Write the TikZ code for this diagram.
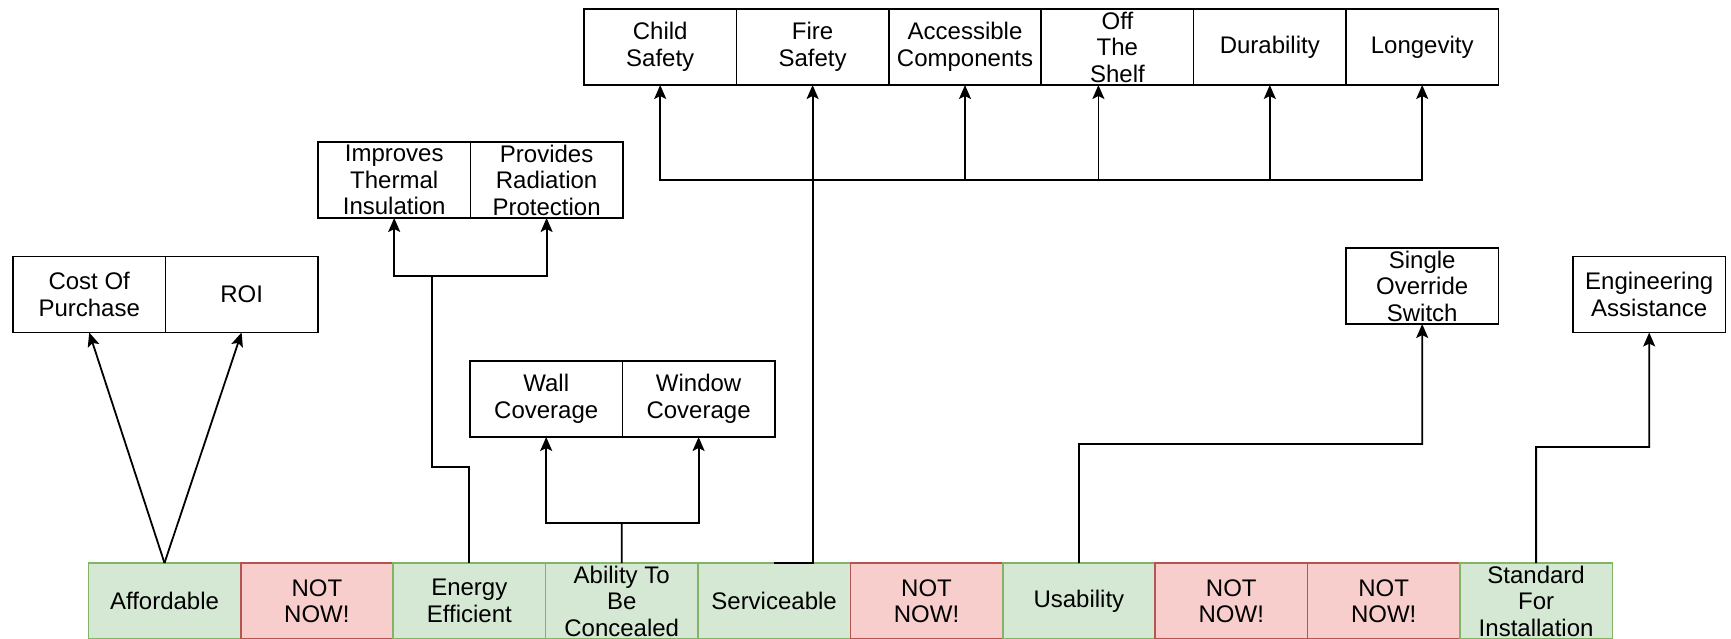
\documentclass[tikz,border=0pt]{standalone}
\usepackage{fontspec}
\setmainfont{Liberation Sans}
\usepackage{xcolor}
\usetikzlibrary{arrows.meta, positioning}

\definecolor{goalfill}{HTML}{D5E8D4}
\definecolor{goalline}{HTML}{82B366}
\definecolor{laterfill}{HTML}{F8CECC}
\definecolor{laterline}{HTML}{B85450}
\newcommand{\needfont}{\fontsize{12}{13.25}\selectfont}

\begin{document}
\begin{tikzpicture}[x=0.5pt, y=-0.5pt,
		need/.style={draw, line width=0.8pt, minimum width=76.2pt, minimum height=38pt, inner xsep=1pt, inner ysep=0pt, outer sep=0pt, align=center, font=\needfont},
		goal/.style={need, fill=goalfill, draw=goalline},
		later/.style={need, fill=laterfill, draw=laterline},
		link/.style={line width=0.9pt, -{Stealth[length=7pt, width=6pt, inset=1.5pt]}},
		wire/.style={line width=0.9pt}
		]
		\useasboundingbox (0,0) rectangle (1731,638);
		% bottom row
		\node [goal](afford) at (164.5,601) {Affordable};
		\node [later](notnow1) [right=0pt of afford] {NOT\\NOW!};
		\node [goal](energy) [right=0pt of notnow1] {Energy\\Efficient};
		\node [goal](conceal) [right=0pt of energy] {Ability To\\Be\\Concealed};
		\node [goal](serv) [right=0pt of conceal] {Serviceable};
		\node [later](notnow2) [right=0pt of serv] {NOT\\NOW!};
		\node [goal](usab) [right=0pt of notnow2] {Usability};
		\node [later](notnow3) [right=0pt of usab] {NOT\\NOW!};
		\node [later](notnow4) [right=0pt of notnow3] {NOT\\NOW!};
		\node [goal](install) [right=0pt of notnow4] {Standard\\For\\Installation};
		% top row
		\node [need](child) at (660.2,47) {Child\\Safety};
		\node [need](fire) [right=0pt of child] {Fire\\Safety};
		\node [need](access) [right=0pt of fire] {Accessible\\Components};
		\node [need](shelf) [right=0pt of access] {Off\\The\\Shelf};
		\node [need](durab) [right=0pt of shelf] {Durability};
		\node [need](longev) [right=0pt of durab] {Longevity};
		% side groups
		\node [need](thermal) at (394.2,180) {Improves\\Thermal\\Insulation};
		\node [need](radiation) [right=0pt of thermal] {Provides\\Radiation\\Protection};
		\node [need](cost) at (89.2,294.5) {Cost Of\\Purchase};
		\node [need](roi) [right=0pt of cost] {ROI};
		\node [need](wall) at (546.2,399) {Wall\\Coverage};
		\node [need](window) [right=0pt of wall] {Window\\Coverage};
		\node [need](switch) at (1422.2,286) {Single\\Override\\Switch};
		\node [need](assist) at (1649.2,294.5) {Engineering\\Assistance};

		\coordinate (ebend) at (431.7,467);
		\coordinate (ejoin) at (431.7,276);
		\coordinate (cjoin) at (621.7,523);
		\coordinate (sjoin) at (812.6,180);
		\coordinate (ubend) at (1078.9,444);
		\coordinate (ibend) at (1536.1,447);

		\draw[link] (afford.north) -- (cost.south);
		\draw[link] (afford.north) -- (roi.south);
		\draw[wire] (energy.north) |- (ebend) -- (ejoin);
		\draw[link] (ejoin) -| (thermal.south);
		\draw[link] (ejoin) -| (radiation.south);
		\draw[wire] (conceal.north) -- (cjoin);
		\draw[link] (cjoin) -| (wall.south);
		\draw[link] (cjoin) -| (window.south);
		\draw[link] (serv.north) -- (serv.north -| fire.south) -- (fire.south);
		\draw[link] (sjoin) -| (child.south);
		\draw[link] (sjoin) -| (access.south);
		\draw[link] (sjoin) -| ([xshift=-9.5pt]shelf.south);
		\draw[link] (sjoin) -| (durab.south);
		\draw[link] (sjoin) -| (longev.south);
		\draw[link] (usab.north) -- (ubend) -| (switch.south);
		\draw[link] (install.north) -- (ibend) -| (assist.south);
\end{tikzpicture}
\end{document}
